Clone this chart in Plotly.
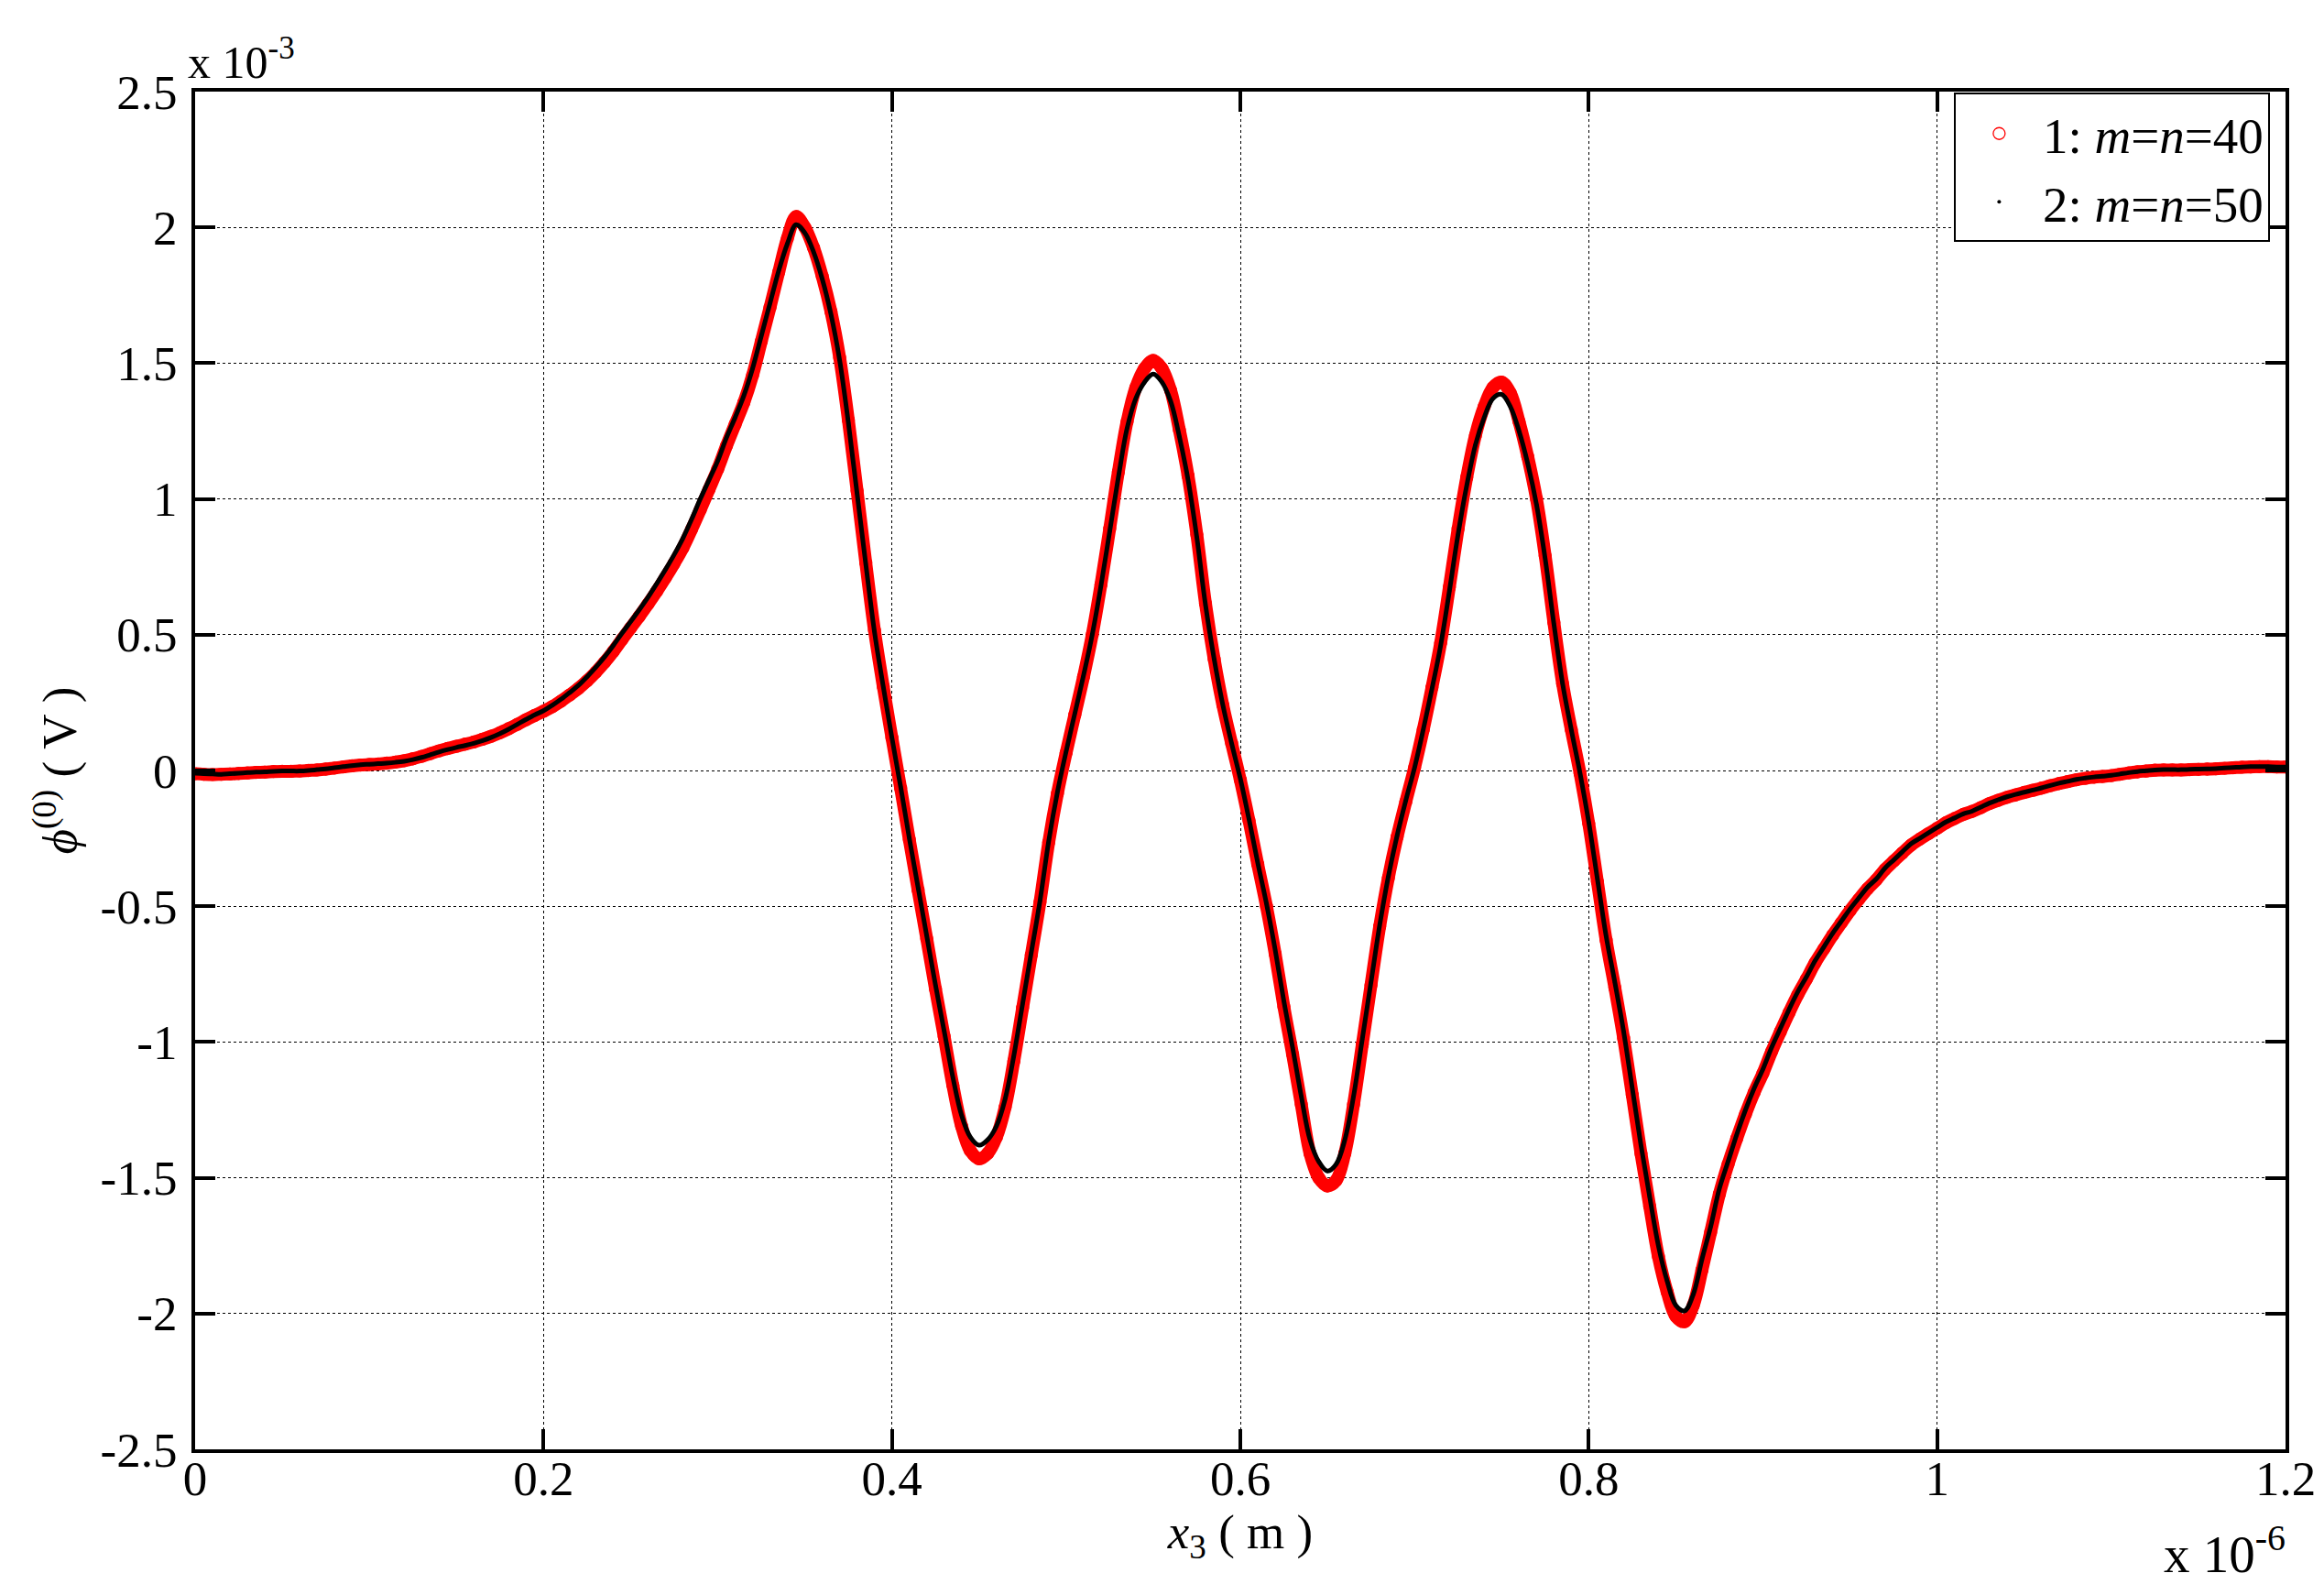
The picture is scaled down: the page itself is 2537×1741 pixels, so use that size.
import plotly.graph_objects as go

# x positions (units of 1e-6 m), sampled every 0.005
X_STEP = 0.005
N_POINTS = 241
x3 = [round(i * X_STEP, 3) for i in range(N_POINTS)]

# series 1: m=n=40 (units of 1e-3 V)
phi_40 = [
    -0.012, -0.014, -0.015, -0.014, -0.013, -0.011, -0.009, -0.007, -0.006, -0.004, -0.003, -0.003, -0.002, 0.000, 0.002, 0.005, 0.009, 0.013, 0.017, 0.020,
    0.022, 0.024, 0.027, 0.031, 0.036, 0.043, 0.052, 0.062, 0.072, 0.081, 0.089, 0.097, 0.105, 0.115, 0.126, 0.139, 0.154, 0.170, 0.187, 0.203,
    0.218, 0.235, 0.255, 0.278, 0.302, 0.330, 0.362, 0.398, 0.438, 0.482, 0.525, 0.568, 0.613, 0.660, 0.710, 0.763, 0.820, 0.888, 0.960, 1.035,
    1.110, 1.195, 1.275, 1.355, 1.455, 1.580, 1.705, 1.835, 1.960, 2.040, 2.000, 1.925, 1.820, 1.690, 1.520, 1.290, 1.030, 0.765, 0.515, 0.310,
    0.120, -0.065, -0.255, -0.440, -0.620, -0.805, -0.980, -1.160, -1.310, -1.400, -1.430, -1.410, -1.350, -1.240, -1.070, -0.875, -0.680, -0.485, -0.265, -0.085,
    0.065, 0.205, 0.345, 0.500, 0.685, 0.890, 1.100, 1.285, 1.410, 1.480, 1.510, 1.480, 1.400, 1.255, 1.085, 0.870, 0.615, 0.410, 0.240, 0.100,
    -0.035, -0.185, -0.345, -0.500, -0.675, -0.870, -1.045, -1.230, -1.410, -1.500, -1.530, -1.510, -1.410, -1.230, -1.010, -0.790, -0.575, -0.395, -0.245, -0.115,
    0.010, 0.150, 0.305, 0.470, 0.675, 0.890, 1.080, 1.235, 1.340, 1.410, 1.430, 1.390, 1.285, 1.155, 1.000, 0.790, 0.545, 0.320, 0.150, -0.010,
    -0.195, -0.410, -0.625, -0.800, -0.985, -1.195, -1.410, -1.605, -1.790, -1.920, -2.010, -2.030, -1.970, -1.840, -1.700, -1.560, -1.450, -1.355, -1.265, -1.185,
    -1.115, -1.035, -0.962, -0.892, -0.826, -0.768, -0.708, -0.657, -0.607, -0.561, -0.516, -0.475, -0.436, -0.403, -0.365, -0.334, -0.304, -0.275, -0.253, -0.233,
    -0.213, -0.193, -0.177, -0.162, -0.151, -0.137, -0.122, -0.110, -0.099, -0.090, -0.081, -0.073, -0.065, -0.056, -0.048, -0.041, -0.034, -0.029, -0.025, -0.022,
    -0.019, -0.014, -0.009, -0.005, -0.002, 0.001, 0.002, 0.002, 0.002, 0.003, 0.004, 0.005, 0.006, 0.008, 0.010, 0.012, 0.013, 0.014, 0.014, 0.013, 0.013,
]

# series 2: m=n=50 (units of 1e-3 V)
phi_50 = [
    -0.010, -0.012, -0.013, -0.014, -0.012, -0.010, -0.008, -0.006, -0.005, -0.003, -0.002, -0.002, -0.002, 0.000, 0.003, 0.006, 0.010, 0.014, 0.018, 0.021,
    0.023, 0.025, 0.027, 0.030, 0.034, 0.040, 0.048, 0.058, 0.068, 0.077, 0.085, 0.092, 0.100, 0.110, 0.122, 0.136, 0.152, 0.170, 0.188, 0.205,
    0.220, 0.240, 0.262, 0.287, 0.313, 0.345, 0.380, 0.418, 0.460, 0.505, 0.548, 0.592, 0.638, 0.688, 0.740, 0.795, 0.855, 0.925, 1.000, 1.070,
    1.140, 1.225, 1.300, 1.380, 1.480, 1.600, 1.720, 1.840, 1.940, 2.010, 1.980, 1.910, 1.810, 1.680, 1.510, 1.280, 1.020, 0.760, 0.510, 0.310,
    0.120, -0.060, -0.250, -0.430, -0.610, -0.790, -0.960, -1.130, -1.270, -1.350, -1.380, -1.360, -1.310, -1.210, -1.050, -0.860, -0.670, -0.480, -0.260, -0.080,
    0.070, 0.210, 0.350, 0.500, 0.680, 0.880, 1.080, 1.260, 1.370, 1.430, 1.460, 1.430, 1.360, 1.230, 1.070, 0.860, 0.610, 0.410, 0.240, 0.100,
    -0.030, -0.180, -0.340, -0.490, -0.660, -0.850, -1.020, -1.200, -1.360, -1.440, -1.475, -1.450, -1.360, -1.200, -0.990, -0.780, -0.570, -0.390, -0.240, -0.110,
    0.010, 0.150, 0.300, 0.460, 0.660, 0.870, 1.050, 1.200, 1.300, 1.370, 1.385, 1.340, 1.250, 1.130, 0.980, 0.780, 0.540, 0.320, 0.150, -0.010,
    -0.190, -0.400, -0.610, -0.780, -0.960, -1.170, -1.380, -1.570, -1.750, -1.880, -1.970, -1.990, -1.930, -1.800, -1.680, -1.540, -1.440, -1.340, -1.250, -1.170,
    -1.100, -1.020, -0.950, -0.880, -0.815, -0.760, -0.700, -0.650, -0.600, -0.555, -0.510, -0.470, -0.430, -0.400, -0.360, -0.330, -0.300, -0.270, -0.250, -0.230,
    -0.210, -0.190, -0.175, -0.160, -0.150, -0.135, -0.120, -0.108, -0.097, -0.088, -0.080, -0.072, -0.064, -0.055, -0.047, -0.040, -0.033, -0.028, -0.024, -0.021,
    -0.018, -0.013, -0.008, -0.004, -0.001, 0.002, 0.003, 0.003, 0.003, 0.004, 0.005, 0.006, 0.007, 0.009, 0.011, 0.013, 0.014, 0.014, 0.014, 0.013, 0.013,
]

series_names = ["1: <i>m</i>=<i>n</i>=40", "2: <i>m</i>=<i>n</i>=50"]

x_tickvals = [0, 0.2, 0.4, 0.6, 0.8, 1.0, 1.2]
x_ticktext = ["0", "0.2", "0.4", "0.6", "0.8", "1", "1.2"]
y_tickvals = [-2.5, -2.0, -1.5, -1.0, -0.5, 0, 0.5, 1.0, 1.5, 2.0, 2.5]
y_ticktext = ["-2.5", "-2", "-1.5", "-1", "-0.5", "0", "0.5", "1", "1.5", "2", "2.5"]

FONT = "Liberation Serif"
FS = 53
RED = "#ff0000"

fig = go.Figure()
# dense marker band of series 1 (drawn as a smooth band through the samples)
fig.add_trace(go.Scatter(
    x=x3, y=phi_40, mode="lines", line=dict(color=RED, width=14, shape="spline"),
    showlegend=False, hoverinfo="skip",
))
fig.add_trace(go.Scatter(
    x=x3, y=phi_40, mode="markers", name=series_names[0],
    marker=dict(symbol="circle-open", size=13, color=RED, line=dict(width=1.3, color=RED)),
))
# dense dots of series 2
fig.add_trace(go.Scatter(
    x=x3, y=phi_50, mode="lines", line=dict(color="black", width=5, shape="spline"),
    showlegend=False, hoverinfo="skip",
))
fig.add_trace(go.Scatter(
    x=x3, y=phi_50, mode="markers", name=series_names[1],
    marker=dict(symbol="circle", size=4, color="black"),
))

axis_common = dict(
    showline=True, linecolor="black", linewidth=4, mirror="ticks",
    ticks="inside", ticklen=22, tickwidth=3.5, tickcolor="black",
    showgrid=True, gridcolor="black", gridwidth=1, griddash="dot",
    zeroline=False,
    tickfont=dict(family=FONT, size=FS, color="black"),
)

fig.update_xaxes(
    range=[0, 1.2], tickvals=x_tickvals, ticktext=x_ticktext,
    title=dict(text="<i>x</i><sub>3</sub> ( m )", font=dict(family=FONT, size=FS, color="black"), standoff=0),
    ticklabelstandoff=-18,
    **axis_common,
)
fig.update_yaxes(
    range=[-2.5, 2.5], tickvals=y_tickvals, ticktext=y_ticktext,
    title=dict(text="<i>ϕ</i><sup>(0)</sup> ( V )", font=dict(family=FONT, size=FS, color="black"), standoff=10),
    ticklabelstandoff=5,
    **axis_common,
)

fig.add_annotation(
    text="x 10<sup>-3</sup>", xref="paper", yref="paper", x=0, y=1,
    xanchor="left", yanchor="bottom", showarrow=False, yshift=2, xshift=-10,
    font=dict(family=FONT, size=50, color="black"),
)
fig.add_annotation(
    text="x 10<sup>-6</sup>", xref="paper", yref="paper", x=1, y=0,
    xanchor="right", yanchor="top", showarrow=False, yshift=-72, xshift=2,
    font=dict(family=FONT, size=57, color="black"),
)

fig.update_layout(
    width=2537, height=1741, autosize=False,
    margin=dict(l=205, r=50, t=92, b=167),
    paper_bgcolor="white", plot_bgcolor="white",
    font=dict(family=FONT, size=FS, color="black"),
    showlegend=True,
    legend=dict(
        x=0.9925, y=0.999, xanchor="right", yanchor="top",
        bgcolor="white", bordercolor="black", borderwidth=2,
        font=dict(family=FONT, size=55, color="black"),
        itemwidth=85, tracegroupgap=0,
    ),
)

fig.write_html("out.html")
